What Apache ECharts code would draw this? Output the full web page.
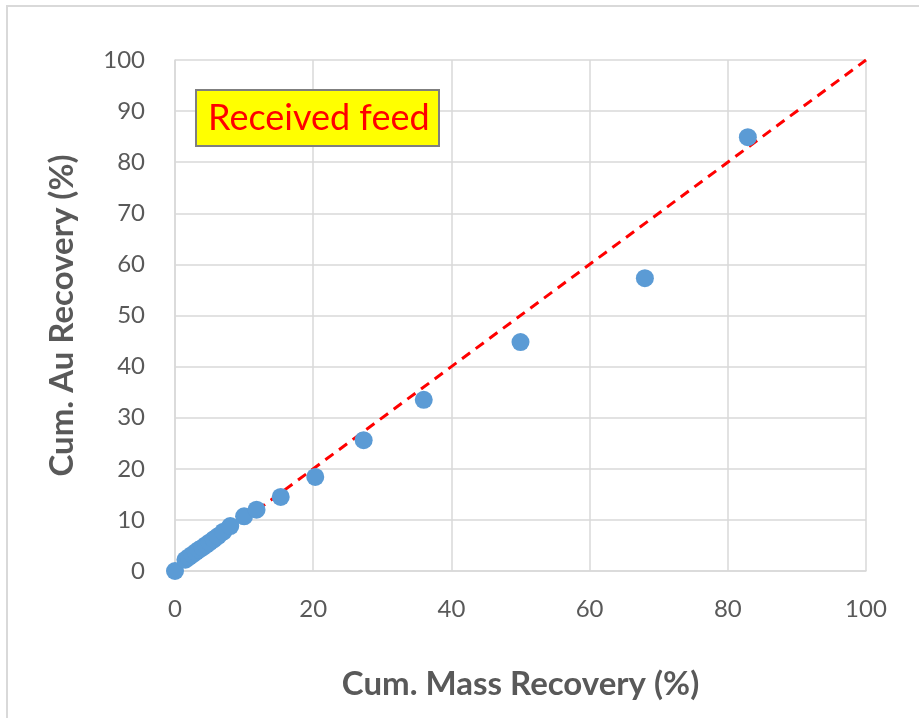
<!DOCTYPE html>
<html>
<head>
<meta charset="utf-8">
<script src="https://cdn.jsdelivr.net/npm/echarts@6/dist/echarts.min.js"></script>
<style>
html,body{margin:0;padding:0;background:#fff;}
#chart{width:919px;height:718px;}
</style>
</head>
<body>
<div id="chart"></div>
<script>
// Data
const massRecovery = [0, 1.5, 2.0, 2.5, 3.0, 3.5, 4.0, 4.5, 5.0, 5.6, 6.2, 7.0, 8.0, 10.0, 11.8, 15.3, 20.3, 27.3, 36.0, 50.0, 68.0, 82.9];
const auRecovery   = [0, 2.2, 2.7, 3.2, 3.7, 4.2, 4.6, 5.1, 5.6, 6.2, 6.8, 7.7, 8.8, 10.7, 12.0, 14.5, 18.4, 25.6, 33.5, 44.8, 57.3, 84.9];
const lineX = [0, 100];
const lineY = [0, 100];
const legendText = 'Received feed';
const xTitle = 'Cum. Mass Recovery (%)';
const yTitle = 'Cum. Au Recovery (%)';

const scatterData = massRecovery.map((x, i) => [x, auRecovery[i]]);
const lineData = lineX.map((x, i) => [x, lineY[i]]);

const chart = echarts.init(document.getElementById('chart'), null, {renderer: 'canvas'});
const labelColor = '#595959';
const gridColor = '#d9d9d9';
chart.setOption({
  animation: false,
  backgroundColor: '#ffffff',
  title: {
    text: legendText,
    left: 196,
    top: 90,
    backgroundColor: '#ffff00',
    borderColor: '#7f7f7f',
    borderWidth: 2,
    padding: [10, 10, 10, 12],
    textStyle: {color: '#ff0000', fontFamily: 'Lato', fontWeight: 'normal', fontSize: 36}
  },
  graphic: [
    {type: 'line', shape: {x1: 6, y1: 6, x2: 919, y2: 6}, style: {stroke: '#d9d9d9', lineWidth: 2}, silent: true},
    {type: 'line', shape: {x1: 7, y1: 6, x2: 7, y2: 718}, style: {stroke: '#d9d9d9', lineWidth: 2}, silent: true}
  ],
  grid: {left: 175, right: 53, top: 60, bottom: 147, containLabel: false},
  xAxis: {
    type: 'value', min: 0, max: 100, interval: 20,
    name: xTitle, nameLocation: 'middle', nameGap: 97,
    nameTextStyle: {color: labelColor, fontFamily: 'Lato', fontWeight: 'bold', fontSize: 33},
    axisLine: {show: true, lineStyle: {color: gridColor, width: 1.5}},
    axisTick: {show: false},
    axisLabel: {color: labelColor, fontFamily: 'Lato', fontSize: 24, margin: 26},
    splitLine: {show: true, lineStyle: {color: gridColor, width: 1.5}}
  },
  yAxis: {
    type: 'value', min: 0, max: 100, interval: 10,
    name: yTitle, nameLocation: 'middle', nameGap: 96, nameRotate: 90,
    nameTextStyle: {color: labelColor, fontFamily: 'Lato', fontWeight: 'bold', fontSize: 33},
    axisLine: {show: true, lineStyle: {color: gridColor, width: 1.5}},
    axisTick: {show: false},
    axisLabel: {color: labelColor, fontFamily: 'Lato', fontSize: 24, margin: 30},
    splitLine: {show: true, lineStyle: {color: gridColor, width: 1.5}}
  },
  series: [
    {
      type: 'line', data: lineData, showSymbol: false, symbol: 'none', z: 2,
      lineStyle: {color: '#ff0000', width: 3, type: [10, 7]}
    },
    {
      type: 'scatter', data: scatterData, symbolSize: 18, z: 3,
      itemStyle: {color: '#5b9bd5', opacity: 1}
    }
  ]
});
</script>
</body>
</html>
